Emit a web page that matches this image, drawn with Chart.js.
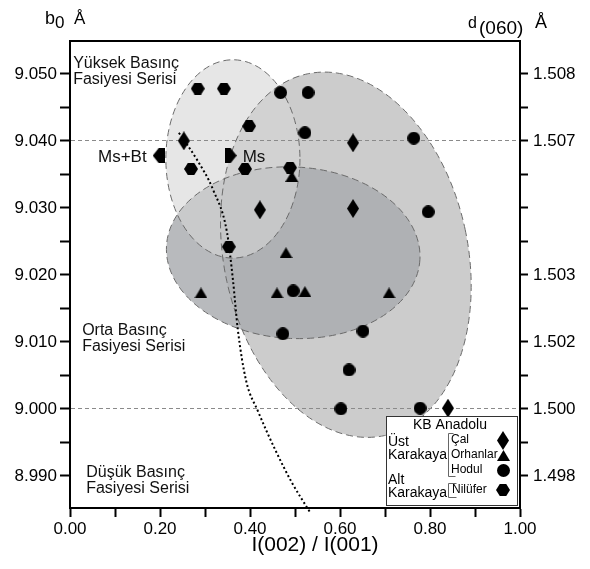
<!DOCTYPE html>
<html lang="tr">
<head>
    <meta charset="UTF-8">
    <title>b0 - I(002)/I(001)</title>
    <script src="https://cdn.jsdelivr.net/npm/chart.js"></script>
    <style>
        html, body { margin: 0; padding: 0; background: #fff; }
    </style>
</head>
<body>
    <canvas id="b0Chart" width="590" height="569"></canvas>
    <script>
        // Eksen sınırları
        const xMin = 0, xMax = 1;
        const yMin = 8.9852, yMax = 9.0549;

        // Tik değerleri ve etiketleri
        const xTicks = [0.0, 0.1, 0.2, 0.3, 0.4, 0.5, 0.6, 0.7, 0.8, 0.9, 1.0];
        const xTickLabels = ['0.00', '', '0.20', '', '0.40', '', '0.60', '', '0.80', '', '1.00'];
        const bTicks = [8.990, 8.995, 9.000, 9.005, 9.010, 9.015, 9.020, 9.025, 9.030, 9.035, 9.040, 9.045, 9.050];
        const bTickLabels = ['8.990', '', '9.000', '', '9.010', '', '9.020', '', '9.030', '', '9.040', '', '9.050'];
        const dTickLabels = ['1.498', '', '1.500', '', '1.502', '', '1.503', '', '', '', '1.507', '', '1.508'];
        const dashedAt = [9.000, 9.040];

        // Üst Karakaya - Çal
        const calX = [0.253, 0.422, 0.629, 0.629, 0.840];
        const calY = [9.0400, 9.0297, 9.0397, 9.0299, 9.0001];
        // Üst Karakaya - Orhanlar
        const orhanlarX = [0.291, 0.480, 0.460, 0.522, 0.709, 0.493];
        const orhanlarY = [9.0173, 9.0233, 9.0173, 9.0175, 9.0173, 9.0347];
        // Üst Karakaya - Hodul
        const hodulX = [0.468, 0.529, 0.522, 0.764, 0.796, 0.496, 0.473, 0.651, 0.620, 0.602, 0.778];
        const hodulY = [9.0472, 9.0472, 9.0412, 9.0404, 9.0294, 9.0176, 9.0112, 9.0116, 9.0058, 9.0000, 9.0001];
        // Alt Karakaya - Nilüfer
        const niluferX = [0.284, 0.342, 0.398, 0.269, 0.389, 0.489, 0.353];
        const niluferY = [9.0478, 9.0478, 9.0422, 9.0358, 9.0358, 9.0360, 9.0242];

        // Ms+Bt / Ms yön işaretleri
        const mineralNames = ['Ms+Bt', 'Ms'];
        const mineralX = [0.197, 0.357];
        const mineralY = [9.0378, 9.0378];

        // Ms / Ms+Bt sınır eğrisi
        const boundaryX = [0.242, 0.282, 0.318, 0.349, 0.362, 0.373, 0.391, 0.418, 0.456, 0.493, 0.533];
        const boundaryY = [9.0412, 9.0372, 9.0327, 9.0263, 9.0193, 9.0118, 9.0043, 8.9996, 8.9939, 8.9890, 8.9846];

        // Örnek alanları (elips): merkez, yarıçap, eğim (derece)
        const fieldNames = ['Hodul', 'Orhanlar', 'Nilüfer'];
        const fieldCenterX = [0.613, 0.496, 0.362];
        const fieldCenterY = [9.0230, 9.0233, 9.0373];
        const fieldRadiusX = [0.271, 0.282, 0.149];
        const fieldRadiusY = [0.0276, 0.0128, 0.0148];
        const fieldTilt = [-12, 3, 0];

        const fontFamily = '"Liberation Sans", Arial, Helvetica, sans-serif';
        Chart.defaults.font.family = fontFamily;
        Chart.defaults.color = '#000';

        // İşaret şekilleri
        function marker(shape, w, h) {
            const c = document.createElement('canvas');
            c.width = w;
            c.height = h;
            const g = c.getContext('2d');
            g.fillStyle = '#000';
            g.beginPath();
            if (shape === 'diamond') {
                g.moveTo(w / 2, 0); g.lineTo(w, h / 2); g.lineTo(w / 2, h); g.lineTo(0, h / 2);
            } else if (shape === 'triangle') {
                g.moveTo(w / 2, 0); g.lineTo(w, h); g.lineTo(0, h);
            } else if (shape === 'circle') {
                g.arc(w / 2, h / 2, w / 2, 0, Math.PI * 2);
            } else if (shape === 'hexagon') {
                g.moveTo(0, h / 2); g.lineTo(w * 0.27, 0); g.lineTo(w * 0.73, 0);
                g.lineTo(w, h / 2); g.lineTo(w * 0.73, h); g.lineTo(w * 0.27, h);
            } else if (shape === 'left') {
                g.moveTo(0, h / 2); g.lineTo(w * 0.5, 0); g.lineTo(w, 0); g.lineTo(w, h); g.lineTo(w * 0.5, h);
            } else if (shape === 'right') {
                g.moveTo(w, h / 2); g.lineTo(w * 0.5, 0); g.lineTo(0, 0); g.lineTo(0, h); g.lineTo(w * 0.5, h);
            }
            g.closePath();
            g.fill();
            return c;
        }

        const diamondImg = marker('diamond', 12, 19);
        const triangleImg = marker('triangle', 13, 11);
        const circleImg = marker('circle', 13, 13);
        const hexagonImg = marker('hexagon', 14, 12);
        const leftImg = marker('left', 12, 15);
        const rightImg = marker('right', 12, 15);

        const toPoints = (xs, ys) => xs.map((x, i) => ({ x: x, y: ys[i] }));

        function pointSet(label, xs, ys, img) {
            return {
                type: 'scatter',
                label: label,
                data: toPoints(xs, ys),
                pointStyle: img,
                pointRadius: 7,
                clip: 10
            };
        }

        // Elipsler: ızgara çizgilerinin altında
        const fieldPlugin = {
            id: 'fields',
            beforeDraw(chart) {
                const ctx = chart.ctx;
                const xs = chart.scales.x, ys = chart.scales.y;
                const fills = ['rgb(204,204,204)', 'rgba(168,171,174,0.82)', 'rgba(214,214,214,0.6)'];
                const shapes = fieldNames.map((name, i) => {
                    const cx = xs.getPixelForValue(fieldCenterX[i]);
                    const cy = ys.getPixelForValue(fieldCenterY[i]);
                    const rx = Math.abs(xs.getPixelForValue(fieldCenterX[i] + fieldRadiusX[i]) - cx);
                    const ry = Math.abs(ys.getPixelForValue(fieldCenterY[i] + fieldRadiusY[i]) - cy);
                    return { cx, cy, rx, ry, rot: fieldTilt[i] * Math.PI / 180 };
                });
                ctx.save();
                shapes.forEach((s, i) => {
                    ctx.beginPath();
                    ctx.ellipse(s.cx, s.cy, s.rx, s.ry, s.rot, 0, Math.PI * 2);
                    ctx.fillStyle = fills[i];
                    ctx.fill();
                });
                ctx.setLineDash([7, 4]);
                ctx.strokeStyle = '#6a6a6a';
                ctx.lineWidth = 1;
                shapes.forEach(s => {
                    ctx.beginPath();
                    ctx.ellipse(s.cx, s.cy, s.rx, s.ry, s.rot, 0, Math.PI * 2);
                    ctx.stroke();
                });
                ctx.restore();
            }
        };

        // Yazılar, çerçeve ve açıklama kutusu
        const textPlugin = {
            id: 'texts',
            afterDatasetsDraw(chart) {
                const ctx = chart.ctx;
                const xs = chart.scales.x, ys = chart.scales.y;
                const area = chart.chartArea;
                ctx.save();
                ctx.fillStyle = '#111';
                ctx.textBaseline = 'middle';

                // Basınç fasiyesi serileri
                ctx.font = '16px ' + fontFamily;
                ctx.textAlign = 'left';
                const zones = [
                    { lines: ['Yüksek Basınç', 'Fasiyesi Serisi'], x: 0.007, y: 9.0515 },
                    { lines: ['Orta Basınç', 'Fasiyesi Serisi'], x: 0.027, y: 9.0117 },
                    { lines: ['Düşük Basınç', 'Fasiyesi Serisi'], x: 0.036, y: 8.9905 }
                ];
                zones.forEach(z => {
                    const px = xs.getPixelForValue(z.x);
                    const py = ys.getPixelForValue(z.y);
                    z.lines.forEach((t, k) => ctx.fillText(t, px, py + k * 16));
                });

                // Ms+Bt ve Ms
                ctx.font = '17px ' + fontFamily;
                const m0x = xs.getPixelForValue(mineralX[0]), m0y = ys.getPixelForValue(mineralY[0]);
                const m1x = xs.getPixelForValue(mineralX[1]), m1y = ys.getPixelForValue(mineralY[1]);
                ctx.textAlign = 'right';
                ctx.fillText(mineralNames[0], m0x - 12, m0y + 2);
                ctx.textAlign = 'left';
                ctx.fillText(mineralNames[1], m1x + 12, m1y + 2);

                // Eksen başlıkları
                ctx.fillStyle = '#000';
                ctx.textBaseline = 'alphabetic';
                ctx.font = '18px ' + fontFamily;
                ctx.fillText('b', 45, 24);
                ctx.font = '17px ' + fontFamily;
                ctx.fillText('0', 55, 28);
                ctx.font = '17px ' + fontFamily;
                ctx.fillText('Å', 74, 24);
                ctx.font = '16px ' + fontFamily;
                ctx.fillText('d', 468, 28);
                ctx.font = '19px ' + fontFamily;
                ctx.fillText('(060)', 479, 34);
                ctx.font = '18px ' + fontFamily;
                ctx.fillText('Å', 535, 28);

                ctx.textAlign = 'center';
                ctx.font = '21px ' + fontFamily;
                ctx.fillText('I(002) / I(001)', 315, 551);

                // Üst çerçeve çizgisi
                ctx.strokeStyle = '#000';
                ctx.lineWidth = 2;
                ctx.beginPath();
                ctx.moveTo(area.left - 1, area.top);
                ctx.lineTo(area.right + 1, area.top);
                ctx.stroke();

                // Açıklama kutusu
                const bx = area.right - 134, by = area.bottom - 92, bw = 131, bh = 89;
                ctx.fillStyle = '#fff';
                ctx.fillRect(bx, by, bw, bh);
                ctx.strokeStyle = '#333';
                ctx.lineWidth = 1;
                ctx.strokeRect(bx + 0.5, by + 0.5, bw, bh);

                ctx.fillStyle = '#000';
                ctx.textBaseline = 'middle';
                ctx.textAlign = 'center';
                ctx.font = '14px ' + fontFamily;
                ctx.fillText('KB Anadolu', bx + 64, by + 9);
                ctx.textAlign = 'left';
                ctx.fillText('Üst', bx + 2, by + 26);
                ctx.fillText('Karakaya', bx + 2, by + 39);
                ctx.fillText('Alt', bx + 2, by + 64);
                ctx.fillText('Karakaya', bx + 2, by + 77);

                ctx.font = '12px ' + fontFamily;
                const names = ['Çal', 'Orhanlar', 'Hodul', 'Nilüfer'];
                const rows = [24, 39, 54, 74];
                const imgs = [diamondImg, triangleImg, circleImg, hexagonImg];
                names.forEach((n, i) => {
                    ctx.fillText(n, bx + (i === 3 ? 66 : 65), by + rows[i]);
                    const img = imgs[i];
                    ctx.drawImage(img, Math.round(bx + 117 - img.width / 2), Math.round(by + rows[i] - img.height / 2));
                });

                // Köşeli ayraçlar
                ctx.strokeStyle = '#666';
                ctx.beginPath();
                ctx.moveTo(bx + 67.5, by + 17.5); ctx.lineTo(bx + 62.5, by + 17.5);
                ctx.lineTo(bx + 62.5, by + 60.5); ctx.lineTo(bx + 69.5, by + 60.5);
                ctx.moveTo(bx + 70.5, by + 67.5); ctx.lineTo(bx + 62.5, by + 67.5);
                ctx.lineTo(bx + 62.5, by + 81.5); ctx.lineTo(bx + 70.5, by + 81.5);
                ctx.stroke();

                ctx.restore();
            }
        };

        const tickFont = { family: fontFamily, size: 17 };
        const near = (a, b) => Math.abs(a - b) < 1e-6;

        new Chart(document.getElementById('b0Chart').getContext('2d'), {
            data: {
                datasets: [
                    pointSet('Çal', calX, calY, diamondImg),
                    pointSet('Nilüfer', niluferX, niluferY, hexagonImg),
                    pointSet('Orhanlar', orhanlarX, orhanlarY, triangleImg),
                    pointSet('Hodul', hodulX, hodulY, circleImg),
                    {
                        type: 'scatter',
                        label: 'Ms+Bt / Ms',
                        data: toPoints(mineralX, mineralY),
                        pointStyle: [leftImg, rightImg],
                        pointRadius: 7
                    },
                    {
                        type: 'line',
                        label: 'Ms / Ms+Bt sınırı',
                        data: toPoints(boundaryX, boundaryY),
                        borderColor: '#000',
                        borderWidth: 2,
                        borderDash: [2, 2.5],
                        pointRadius: 0,
                        cubicInterpolationMode: 'monotone',
                        fill: false,
                        clip: 10
                    }
                ]
            },
            options: {
                responsive: false,
                animation: false,
                events: [],
                layout: { padding: { top: 41, left: 0, right: 0, bottom: 0 } },
                plugins: {
                    legend: { display: false },
                    tooltip: { enabled: false }
                },
                scales: {
                    x: {
                        type: 'linear',
                        position: 'bottom',
                        min: xMin,
                        max: xMax,
                        afterBuildTicks: s => { s.ticks = xTicks.map(v => ({ value: v })); },
                        afterFit: s => { s.height = 61; },
                        ticks: {
                            font: tickFont,
                            color: '#000',
                            padding: 2,
                            maxRotation: 0,
                            autoSkip: false,
                            callback: (v, i) => xTickLabels[i]
                        },
                        grid: {
                            drawOnChartArea: false,
                            tickLength: 9,
                            tickWidth: 2,
                            tickColor: '#000'
                        },
                        border: { color: '#000', width: 2 }
                    },
                    y: {
                        type: 'linear',
                        position: 'left',
                        min: yMin,
                        max: yMax,
                        afterBuildTicks: s => { s.ticks = bTicks.map(v => ({ value: v })); },
                        afterFit: s => { s.width = 70; },
                        ticks: {
                            font: tickFont,
                            color: '#000',
                            padding: 3,
                            autoSkip: false,
                            callback: (v, i) => bTickLabels[i]
                        },
                        grid: {
                            color: c => dashedAt.some(d => c.tick && near(c.tick.value, d)) ? '#8a8a8a' : 'transparent',
                            lineWidth: 1,
                            tickLength: 10,
                            tickWidth: 2,
                            tickColor: '#000'
                        },
                        border: { color: '#000', width: 2, dash: [4, 3] }
                    },
                    y2: {
                        type: 'linear',
                        position: 'right',
                        min: yMin,
                        max: yMax,
                        afterBuildTicks: s => { s.ticks = bTicks.map(v => ({ value: v })); },
                        afterFit: s => { s.width = 70; },
                        ticks: {
                            font: tickFont,
                            color: '#000',
                            padding: 5,
                            autoSkip: false,
                            callback: (v, i) => dTickLabels[i]
                        },
                        grid: {
                            drawOnChartArea: false,
                            tickLength: 8,
                            tickWidth: 2,
                            tickColor: '#000'
                        },
                        border: { color: '#000', width: 2 }
                    }
                }
            },
            plugins: [fieldPlugin, textPlugin]
        });
    </script>
</body>
</html>
